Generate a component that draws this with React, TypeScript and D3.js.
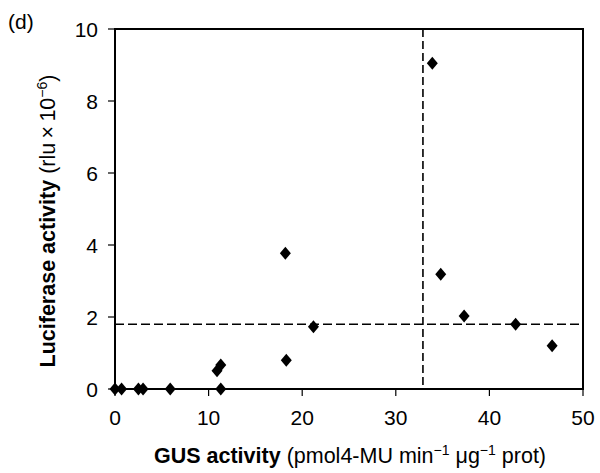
import React from "react";
import * as d3 from "d3";

const gusX = [0, 0.7, 2.5, 3.0, 5.9, 10.9, 11.3, 11.3, 18.3, 18.2, 21.2, 33.9, 34.8, 37.3, 42.8, 46.7];
const lucY = [0, 0, 0, 0, 0, 0.51, 0.67, 0, 0.8, 3.77, 1.73, 9.05, 3.19, 2.03, 1.8, 1.2];
const xTicks = [0, 10, 20, 30, 40, 50];
const yTicks = [0, 2, 4, 6, 8, 10];
const thresholdX = 32.9;
const thresholdY = 1.8;

const W = 600, H = 473;
const left = 115, right = 583, top = 29, bottom = 389;
const FONT = "'Liberation Sans', Arial, Helvetica, sans-serif";

export default function App() {
  const x = d3.scaleLinear().domain([0, 50]).range([left, right]);
  const y = d3.scaleLinear().domain([0, 10]).range([bottom, top]);

  const diamond = (cx: number, cy: number) => {
    const p = d3.path();
    const hw = 5.5, hh = 6.5;
    p.moveTo(cx, cy - hh);
    p.lineTo(cx + hw, cy);
    p.lineTo(cx, cy + hh);
    p.lineTo(cx - hw, cy);
    p.closePath();
    return p.toString();
  };

  return (
    <svg width={W} height={H} style={{ position: "absolute", left: 0, top: 0, background: "#fff" }} fontFamily={FONT}>
      <rect x={0} y={0} width={W} height={H} fill="#fff" />
      <text x={8} y={29} fontSize={21}>(d)</text>

      {/* dashed reference lines */}
      <line x1={x(0)} x2={x(50)} y1={y(thresholdY)} y2={y(thresholdY)} stroke="#000" strokeWidth={1.6} strokeDasharray="9,4" />
      <line x1={x(thresholdX)} x2={x(thresholdX)} y1={y(10)} y2={y(0)} stroke="#000" strokeWidth={1.6} strokeDasharray="8,4" />

      {/* frame */}
      <rect x={left} y={top} width={right - left} height={bottom - top} fill="none" stroke="#000" strokeWidth={2} />

      {/* y ticks */}
      {yTicks.map((t) => (
        <g key={"y" + t}>
          <line x1={left - 7} x2={left} y1={y(t)} y2={y(t)} stroke="#000" strokeWidth={1.2} />
          <text x={98} y={y(t)} dy="0.36em" textAnchor="end" fontSize={21}>{t}</text>
        </g>
      ))}
      {/* x ticks */}
      {xTicks.map((t) => (
        <g key={"x" + t}>
          <line x1={x(t)} x2={x(t)} y1={bottom} y2={bottom + 7} stroke="#000" strokeWidth={1.2} />
          <text x={x(t)} y={425} textAnchor="middle" fontSize={21}>{t}</text>
        </g>
      ))}

      {/* points */}
      {gusX.map((gx, i) => (
        <path key={"p" + i} d={diamond(x(gx), y(lucY[i]))} fill="#000" />
      ))}

      {/* x title */}
      <text x={350} y={463} textAnchor="middle" fontSize={21.5}>
        <tspan fontWeight="bold">GUS activity</tspan>
        <tspan> (pmol4-MU min</tspan>
        <tspan dy={-8} fontSize={14}>−1</tspan>
        <tspan dy={8}> μg</tspan>
        <tspan dy={-8} fontSize={14}>−1</tspan>
        <tspan dy={8}> prot)</tspan>
      </text>

      {/* y title */}
      <text transform={`translate(55, 221) rotate(-90)`} textAnchor="middle" fontSize={21.5}>
        <tspan fontWeight="bold">Luciferase activity</tspan>
        <tspan> (rlu{"\u2009"}×{"\u2009"}10</tspan>
        <tspan dy={-8} fontSize={14}>−6</tspan>
        <tspan dy={8}>)</tspan>
      </text>
    </svg>
  );
}
